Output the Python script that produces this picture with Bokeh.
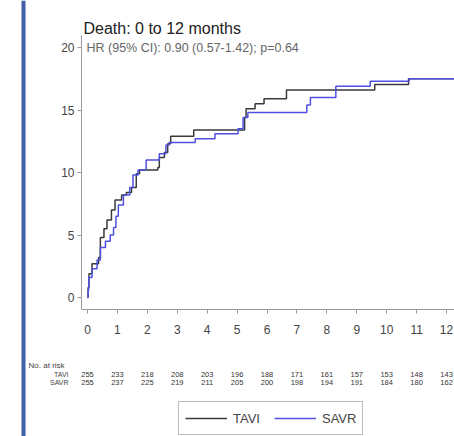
from bokeh.plotting import figure
from bokeh.models import (Range1d, Label, Legend, LegendItem, BoxAnnotation,
                          FixedTicker, ColumnDataSource)
from bokeh.embed import file_html
from bokeh.resources import INLINE

# ---------------- data ----------------
months = list(range(13))
tick_labels = [str(m) for m in months]

tavi_t = [0, 0.02, 0.05, 0.15, 0.37, 0.43, 0.55, 0.65, 0.8, 0.92, 1.14, 1.3, 1.47,
          1.63, 1.74, 2.35, 2.4, 2.57, 2.68, 2.78, 3.55, 5.25, 5.3, 5.6, 5.9, 6.65,
          9.6, 10.73, 12.27]
tavi_v = [0, 0.8, 1.9, 2.7, 3.2, 4.8, 5.5, 6.2, 7.0, 7.8, 8.2, 8.4, 8.8,
          9.9, 10.2, 10.4, 11.2, 11.6, 12.3, 12.9, 13.4, 14.4, 15.1, 15.5, 15.9, 16.6,
          17.05, 17.5, 17.5]

savr_t = [0, 0.02, 0.04, 0.15, 0.32, 0.43, 0.6, 0.76, 0.87, 0.95, 1.03, 1.2, 1.41,
          1.52, 1.69, 1.96, 2.4, 2.62, 2.73, 3.6, 4.26, 5.03, 5.2, 5.36, 7.33, 7.45,
          8.3, 9.45, 10.75, 12.27]
savr_v = [0, 0.6, 1.6, 2.3, 3.0, 4.0, 4.5, 5.0, 5.6, 6.5, 7.4, 8.2, 8.8,
          9.8, 10.2, 11.0, 11.5, 12.2, 12.4, 12.7, 13.1, 13.5, 14.4, 14.8, 15.4, 16.0,
          16.9, 17.3, 17.5, 17.5]

tavi_risk = [255, 233, 218, 208, 203, 196, 188, 171, 161, 157, 153, 148, 143]
savr_risk = [255, 237, 225, 219, 211, 205, 200, 198, 194, 191, 184, 180, 162]

title_text = "Death: 0 to 12 months"
hr_text = "HR (95% CI): 0.90 (0.57-1.42); p=0.64"
risk_title = "No. at risk"
group_names = ["TAVI", "SAVR"]

# ---------------- styles / layout ----------------
SANS = "Liberation Sans, Arial, sans-serif"
C_TAVI = "#3a3a3a"
C_SAVR = "#5050e0"
AXIS_C = "#9a9a9a"

X0, X1 = -2.908, 12.266
Y0, Y1 = -11.12, 23.76
XAXIS_Y = -0.96
YAXIS_X = -0.2
ROW_Y = [-6.16, -6.8]

p = figure(width=454, height=436, x_range=Range1d(X0, X1), y_range=Range1d(Y0, Y1),
           output_backend="svg", toolbar_location=None, min_border=0,
           background_fill_color="white", border_fill_color="white",
           outline_line_color=None)
p.grid.visible = False

# axes
xa = p.xaxis[0]
xa.fixed_location = XAXIS_Y
xa.bounds = (YAXIS_X, X1)
xa.ticker = FixedTicker(ticks=months)
xa.major_label_overrides = {m: s for m, s in zip(months, tick_labels)}
xa.minor_tick_line_color = None
xa.major_tick_out = 4
xa.major_tick_in = 0
xa.major_label_standoff = 11
xa.axis_line_color = AXIS_C
xa.major_tick_line_color = AXIS_C
xa.major_label_text_font = SANS
xa.major_label_text_font_size = "12px"
xa.major_label_text_color = "#444"

ya = p.yaxis[0]
ya.fixed_location = YAXIS_X
ya.bounds = (XAXIS_Y, 20.96)
ya.ticker = FixedTicker(ticks=[0, 5, 10, 15, 20])
ya.minor_tick_line_color = None
ya.major_tick_out = 4
ya.major_tick_in = 0
ya.major_label_standoff = 3
ya.axis_line_color = AXIS_C
ya.major_tick_line_color = AXIS_C
ya.major_label_text_font = SANS
ya.major_label_text_font_size = "12px"
ya.major_label_text_color = "#444"

# decorative blue bar at left
p.add_layout(BoxAnnotation(left=-2.206, right=-2.072, fill_color="#3f5fa6",
                           fill_alpha=1.0, line_color=None))

# curves
r_tavi = p.step(x=tavi_t, y=tavi_v, mode="after", line_color=C_TAVI, line_width=1.5)
r_savr = p.step(x=savr_t, y=savr_v, mode="after", line_color=C_SAVR, line_width=1.5)

# texts
p.add_layout(Label(x=-0.134, y=21.56, text=title_text, text_font=SANS,
                   text_font_size="16px", text_color="#222",
                   text_baseline="alphabetic"))
p.add_layout(Label(x=-0.033, y=20, text=hr_text, text_font=SANS,
                   text_font_size="12.5px", text_color="#666",
                   text_baseline="middle"))
p.add_layout(Label(x=-1.97, y=-5.44, text=risk_title, text_font=SANS,
                   text_font_size="8px", text_color="#444",
                   text_baseline="middle"))

for name, yy in zip(group_names, ROW_Y):
    p.add_layout(Label(x=-0.635, y=yy, text=name, text_font=SANS,
                       text_font_size="7px", text_color="#444",
                       text_align="right", text_baseline="middle"))

for risk, yy in zip([tavi_risk, savr_risk], ROW_Y):
    src = ColumnDataSource(dict(x=months, y=[yy] * len(months),
                                t=[str(v) for v in risk]))
    p.text(x="x", y="y", text="t", source=src, text_font_size="7.5px",
           text_color="#333", text_align="center", text_baseline="middle",
           text_font={"value": SANS})

# legend
legend = Legend(items=[LegendItem(label=group_names[0], renderers=[r_tavi]),
                       LegendItem(label=group_names[1], renderers=[r_savr])],
                orientation="horizontal", location=(178, 1),
                glyph_width=42, glyph_height=20, label_standoff=6, spacing=14,
                padding=6, margin=0, border_line_color="#777",
                border_line_width=1.3, label_text_font=SANS,
                label_text_font_size="13px", label_text_color="#444",
                background_fill_color="white", background_fill_alpha=1.0)
p.add_layout(legend)

open("out.html", "w").write(file_html(p, INLINE))
